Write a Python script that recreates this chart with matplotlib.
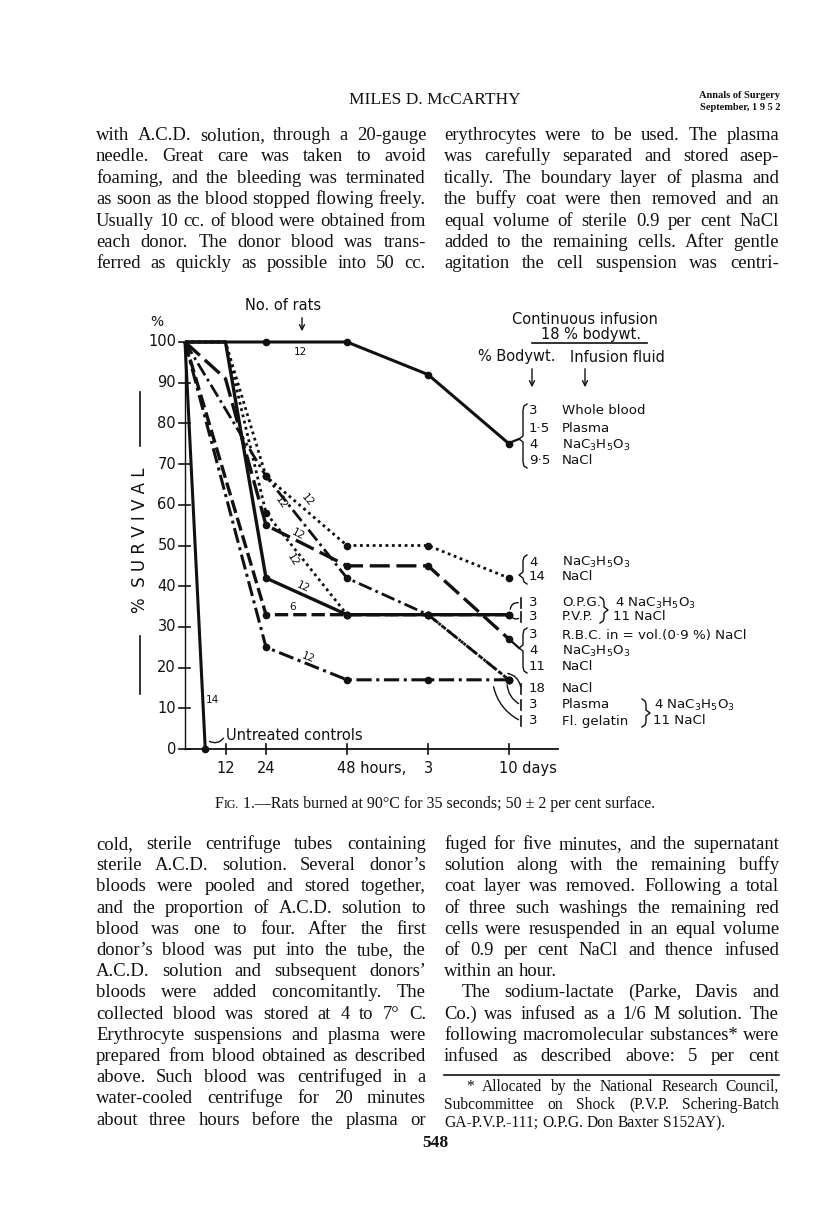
import matplotlib
matplotlib.use("Agg")
import numpy as np
import matplotlib.pyplot as plt
from matplotlib.lines import Line2D
from matplotlib.patches import FancyArrowPatch
from matplotlib.transforms import Affine2D

W, H = 816, 1205
INK = "#111111"
SERIF = "Liberation Serif"
HAND = "DejaVu Sans"

# ---- chart data: hours after the burn (240 = 10 days), % survival ----
t_controls = [0, 6]
s_controls = [100, 0]
t_whole = [0, 24, 48, 72, 240]
s_whole = [100, 100, 100, 92, 75]
t_lactate = [0, 12, 24, 48, 72, 240]
s_lactate = [100, 100, 67, 50, 50, 42]
t_rbc = [0, 12, 24, 48, 72, 240]
s_rbc = [100, 91, 55, 45, 45, 27]
t_opg = [0, 12, 24, 48, 72, 240]
s_opg = [100, 100, 42, 33, 33, 33]
t_pvp = [0, 24, 48, 72, 240]
s_pvp = [100, 33, 33, 33, 33]
t_nacl = [0, 12, 24, 48, 72, 240]
s_nacl = [100, 100, 58, 33, 33, 17]
t_plasma = [0, 24, 48, 72, 240]
s_plasma = [100, 67, 42, 33, 17]
t_gelatin = [0, 24, 48, 72, 240]
s_gelatin = [100, 25, 17, 17, 17]

y_ticks = [0, 10, 20, 30, 40, 50, 60, 70, 80, 90, 100]
x_ticks = [12, 24, 48, 72, 240]
x_labels = ["12", "24", "48 hours,", "3", "10 days"]

# ---- page text ----
header = "MILES D. McCARTHY"
journal = ["Annals of Surgery", "September, 1 9 5 2"]
top_left = [
    "with A.C.D. solution, through a 20-gauge",
    "needle. Great care was taken to avoid",
    "foaming, and the bleeding was terminated",
    "as soon as the blood stopped flowing freely.",
    "Usually 10 cc. of blood were obtained from",
    "each donor. The donor blood was trans-",
    "ferred as quickly as possible into 50 cc.",
]
top_right = [
    "erythrocytes were to be used. The plasma",
    "was carefully separated and stored asep-",
    "tically. The boundary layer of plasma and",
    "the buffy coat were then removed and an",
    "equal volume of sterile 0.9 per cent NaCl",
    "added to the remaining cells. After gentle",
    "agitation the cell suspension was centri-",
]
bottom_left = [
    "cold, sterile centrifuge tubes containing",
    "sterile A.C.D. solution. Several donor\u2019s",
    "bloods were pooled and stored together,",
    "and the proportion of A.C.D. solution to",
    "blood was one to four. After the first",
    "donor\u2019s blood was put into the tube, the",
    "A.C.D. solution and subsequent donors\u2019",
    "bloods were added concomitantly. The",
    "collected blood was stored at 4 to 7\u00b0 C.",
    "Erythrocyte suspensions and plasma were",
    "prepared from blood obtained as described",
    "above. Such blood was centrifuged in a",
    "water-cooled centrifuge for 20 minutes",
    "about three hours before the plasma or",
]
bottom_right = [
    "fuged for five minutes, and the supernatant",
    "solution along with the remaining buffy",
    "coat layer was removed. Following a total",
    "of three such washings the remaining red",
    "cells were resuspended in an equal volume",
    "of 0.9 per cent NaCl and thence infused",
    "within an hour.",
    "The sodium-lactate (Parke, Davis and",
    "Co.) was infused as a 1/6 M solution. The",
    "following macromolecular substances* were",
    "infused as described above: 5 per cent",
]
footnote = [
    "* Allocated by the National Research Council,",
    "Subcommittee on Shock (P.V.P. Schering-Batch",
    "GA-P.V.P.-111; O.P.G. Don Baxter S152AY).",
]
caption = "1.\u2014Rats burned at 90\u00b0C for 35 seconds; 50 \u00b1 2 per cent surface."

fig = plt.figure(figsize=(W / 100, H / 100), dpi=100)
fig.patch.set_facecolor("white")
px = Affine2D().scale(1, -1).translate(0, H)  # page pixels, origin top-left
renderer = fig.canvas.get_renderer()


def T(x, y, s, size=10, family=HAND, **kw):
    kw.setdefault("va", "center")
    return fig.text(x, y, s, transform=px, fontsize=size, family=family, color=INK, **kw)


def seg(xs, ys, lw=1.0, **kw):
    fig.add_artist(Line2D(xs, ys, transform=px, color=INK, lw=lw, **kw))


def curve(a, b, rad=0.3, lw=1.0):
    fig.add_artist(FancyArrowPatch(a, b, transform=px, arrowstyle="-", color=INK, lw=lw,
                                   connectionstyle=f"arc3,rad={rad}"))


def down_arrow(x, y0, y1):
    fig.add_artist(FancyArrowPatch((x, y0), (x, y1), transform=px, arrowstyle="->",
                                   mutation_scale=9, color=INK, lw=1.0))


def brace(x, y0, y1, tip, lw=1.0):
    xs = [x + 4, x + 1, x, x, x - 4, x, x, x + 1, x + 4]
    ys = [y0, y0 + 2, y0 + 6, tip - 3, tip, tip + 3, y1 - 6, y1 - 2, y1]
    seg(xs, ys, lw=lw)


def rbrace(x, y0, y1, lw=1.0):
    mid = (y0 + y1) / 2
    xs = [x - 4, x - 1, x, x, x + 4, x, x, x - 1, x - 4]
    ys = [y0, y0 + 2, y0 + 5, mid - 3, mid, mid + 3, y1 - 5, y1 - 2, y1]
    seg(xs, ys, lw=lw)


def justify(lines, x0, x1, y0, step, size, last_full=True, indents=None, ragged=()):
    for i, line in enumerate(lines):
        y = y0 + i * step + 5
        xa = x0 + (indents or {}).get(i, 0)
        words = line.split()
        sz = size
        while True:
            texts = [T(0, 0, w, size=sz, family=SERIF, va="baseline") for w in words]
            widths = [t.get_window_extent(renderer).width for t in texts]
            min_gap = sz * 100 / 72 * 0.2
            if sum(widths) + min_gap * (len(words) - 1) <= x1 - xa or sz < size - 2:
                break
            for t in texts:
                t.remove()
            sz -= 0.2
        natural_gap = sz * 100 / 72 * 0.25
        is_last = (i == len(lines) - 1 and not last_full) or i in ragged
        if is_last or len(words) == 1:
            gap = natural_gap
        else:
            gap = (x1 - xa - sum(widths)) / (len(words) - 1)
        x = xa
        for t, w in zip(texts, widths):
            t.set_position((x, y))
            x += w + gap


# ---- page header and body text ----
T(435, 100, header, size=12.5, family=SERIF, ha="center")
T(780, 96, journal[0], size=7.5, family=SERIF, ha="right", weight="bold")
T(780, 107, journal[1], size=7.5, family=SERIF, ha="right", weight="bold")

BODY = 13.4
justify(top_left, 96, 426, 135, 21.4, BODY)
justify(top_right, 444, 779, 135, 21.4, BODY)
justify(bottom_left, 96, 426, 844, 21.2, BODY)
justify(bottom_right, 444, 779, 844, 21.2, BODY, indents={7: 18}, ragged=(6,))
seg([444, 779], [1075, 1075], lw=1.2)
justify(footnote, 444, 779, 1086, 18.0, 11.2, last_full=False, indents={0: 22})
T(435, 1143, "548", size=12.5, family=SERIF, ha="center", weight="bold")

# caption with small-caps "Fig."
cap_parts = [("F", 11.5), ("IG.", 8.6), (" " + caption, 11.5)]
objs = [T(0, 0, s, size=sz, family=SERIF, va="baseline") for s, sz in cap_parts]
widths = [o.get_window_extent(renderer).width for o in objs]
x = 435 - sum(widths) / 2
for o, w in zip(objs, widths):
    o.set_position((x, 808))
    x += w

# ---- chart axes (pixel frame: x0=185, 40.5 px per 12 h; y0=749, 4.07 px per %) ----
ax = fig.add_axes([100 / W, 1 - 790 / H, 700 / W, 500 / H])
ax.set_xlim((100 - 185) / 40.5, (800 - 185) / 40.5)
ax.set_ylim((749 - 790) / 4.07, (749 - 290) / 4.07)
ax.axis("off")


def xpos(t):
    t = np.asarray(t, dtype=float)
    return np.where(t > 72, 8.0, t / 12.0)


ax.plot([0, 0], [0, 100], color=INK, lw=1.0)
ax.plot([0, 9.2], [0, 0], color=INK, lw=1.3)
for v in y_ticks:
    ax.plot([-0.16, 0.12], [v, v], color=INK, lw=1.2)
    ax.text(-0.22, v, str(v), ha="right", va="center", fontsize=10.5, family=HAND, color=INK)
for t, lab in zip(x_ticks, x_labels):
    xp = float(xpos(t))
    ax.plot([xp, xp], [-1.3, 1.3], color=INK, lw=1.2)
    ax.text(xp - 0.25 if len(lab) > 2 else xp, -4.9, lab,
            ha="left" if len(lab) > 2 else "center", va="center",
            fontsize=10.5, family=HAND, color=INK)

series = [
    (t_controls, s_controls, dict(ls="-", lw=2.2)),
    (t_whole, s_whole, dict(ls="-", lw=2.2)),
    (t_lactate, s_lactate, dict(ls=(0, (1, 1.3)), lw=2.0)),
    (t_rbc, s_rbc, dict(ls=(0, (6, 2)), lw=2.4)),
    (t_opg, s_opg, dict(ls="-", lw=2.4)),
    (t_pvp, s_pvp, dict(ls=(0, (4, 1.5)), lw=2.4)),
    (t_nacl, s_nacl, dict(ls=(0, (1, 1.3)), lw=2.0)),
    (t_plasma, s_plasma, dict(ls=(0, (5, 1.5, 1, 1.5)), lw=2.0)),
    (t_gelatin, s_gelatin, dict(ls=(0, (5, 1.5, 1, 1.5)), lw=2.2)),
]
for t, s, st in series:
    marks = [i for i, tt in enumerate(t) if tt >= 24 or (s[i] == 0)]
    ax.plot(xpos(t), s, color=INK, marker="o", ms=4.5, markevery=marks,
            solid_capstyle="butt", dash_capstyle="butt", **st)

# group sizes written on the lines
for s, x, y, rot in [("12", 300, 352, 0), ("12", 307, 500, -50), ("12", 281, 503, -55),
                     ("12", 298, 534, -28), ("12", 293, 560, -58), ("12", 303, 587, -25),
                     ("6", 293, 607, 0), ("12", 308, 658, -22), ("14", 212, 700, 0)]:
    T(x, y, s, size=7.5, ha="center", rotation=rot)

T(157, 322, "%", size=10, ha="center")
T(140, 540, "%  S U R V I V A L", size=12, ha="center", rotation=90)
seg([140, 140], [392, 446], lw=1.2)
seg([140, 140], [636, 694], lw=1.2)
T(283, 306, "No. of rats", size=10.5, ha="center")
down_arrow(302, 315, 334)
T(226, 735, "Untreated controls", size=10.5, ha="left")
curve((207, 740), (225, 736), rad=0.5)

# ---- right-hand key ----
T(585, 320, "Continuous infusion", size=10.5, ha="center")
T(591, 335, "18 % bodywt.", size=10.5, ha="center")
seg([532, 647], [343, 343], lw=1.2)
T(555, 357, "% Bodywt.", size=10.5, ha="right")
T(570, 357, "Infusion fluid", size=10.5, ha="left")
down_arrow(532, 366, 390)
down_arrow(585, 366, 390)

NA = r"NaC$_3$H$_5$O$_3$"
XN, XF = 529, 562
KEY = 9.6
rows = [
    (411, "3", "Whole blood"), (428, "1\u00b75", "Plasma"), (445, "4", NA), (461, "9\u00b75", "NaCl"),
    (562, "4", NA), (577, "14", "NaCl"),
    (603, "3", "O.P.G."), (617, "3", "P.V.P."),
    (635, "3", "R.B.C. in = vol.(0\u00b79 %) NaCl"), (651, "4", NA), (667, "11", "NaCl"),
    (689, "18", "NaCl"), (705, "3", "Plasma"), (721, "3", "Fl. gelatin"),
]
for y, n, f in rows:
    T(XN, y, n, size=KEY, ha="left")
    T(XF, y, f, size=KEY, ha="left")
T(615, 603, "4 " + NA, size=KEY, ha="left")
T(613, 617, "11 NaCl", size=KEY, ha="left")
T(654, 705, "4 " + NA, size=KEY, ha="left")
T(653, 721, "11 NaCl", size=KEY, ha="left")
rbrace(604, 597, 623)
rbrace(646, 699, 727)

brace(523, 404, 468, 439)
seg([509, 519], [443, 439], lw=1.6)
brace(523, 555, 584, 575)
brace(523, 628, 673, 648)
seg([509, 519], [639, 648], lw=1.6)
for y in [603, 617, 689, 705, 721]:
    seg([521, 521], [y - 5, y + 5], lw=1.2)
curve((510, 612), (521, 603), rad=-0.6)
curve((510, 614), (521, 617), rad=0.6)
curve((505, 673), (521, 689), rad=-0.4)
curve((507, 682), (521, 705), rad=0.3)
curve((493, 684), (521, 721), rad=0.25)

fig.savefig("out.png", dpi=100, facecolor="white")
